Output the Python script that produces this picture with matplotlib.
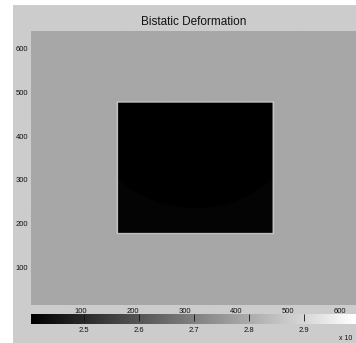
import numpy as np
import matplotlib
matplotlib.use("Agg")
import matplotlib.pyplot as plt
from matplotlib.patches import Rectangle

plt.rcParams['font.family'] = ['Liberation Sans', 'DejaVu Sans']

# field levels (x 10^n)
background_level = 2.79
square_level = 2.414
arc_level = 2.405
rim_level = 2.86
value_range = [2.404, 2.995]

# square footprint in image coords
square_x = [172, 469]
square_y = [178, 475]
rim_width = 3
arc_center = [320, 434]
arc_radius = 199

grid_size = 640
tick_values = [100, 200, 300, 400, 500, 600]
cbar_ticks = [2.5, 2.6, 2.7, 2.8, 2.9]

xx, yy = np.meshgrid(np.arange(grid_size), np.arange(grid_size))
field = np.full((grid_size, grid_size), background_level)
rim = ((xx >= square_x[0] - rim_width) & (xx <= square_x[1] + rim_width) &
       (yy >= square_y[0] - rim_width) & (yy <= square_y[1] + rim_width))
field[rim] = rim_level
inside = ((xx >= square_x[0]) & (xx <= square_x[1]) &
          (yy >= square_y[0]) & (yy <= square_y[1]))
field[inside] = square_level
in_arc = (xx - arc_center[0]) ** 2 + (yy - arc_center[1]) ** 2 < arc_radius ** 2
field[inside & in_arc] = arc_level

W, H = 356, 343
fig = plt.figure(figsize=(W / 100, H / 100), dpi=100, facecolor='white')
fig.patches.append(Rectangle((13 / W, 0), 1, 1 - 5 / H, transform=fig.transFigure,
                             facecolor='#cccccc', edgecolor='none', zorder=-10))

ax = fig.add_axes([31 / W, (H - 305) / H, (W - 31) / W, (305 - 31) / H])
im = ax.imshow(field, cmap='gray', vmin=value_range[0], vmax=value_range[1],
               origin='lower', extent=[0, grid_size, 0, grid_size],
               aspect='auto', interpolation='antialiased')
ax.set_xlim(4, 631)
ax.set_ylim(13, 641)
ax.set_xticks(tick_values)
ax.set_yticks(tick_values)
ax.tick_params(length=0, labelsize=5.5, pad=2, colors='#111111')
for s in ax.spines.values():
    s.set_visible(False)
ax.set_title('Bistatic Deformation', fontsize=8.5, pad=4, color='#111111')

cax = fig.add_axes([31 / W, (H - 324) / H, (W - 31) / W, 10 / H])
cb = fig.colorbar(im, cax=cax, orientation='horizontal')
cb.set_ticks(cbar_ticks)
cb.outline.set_visible(False)
cax.tick_params(direction='in', length=5, width=0.6, colors='#111111',
                top=True, bottom=False, labelbottom=True, labelsize=5.5, pad=2)
for t in cax.get_xticklines():
    t.set_color('#333333')
fig.text(339 / W, 1 - 338 / H, 'x 10', fontsize=5, va='center', ha='left', color='#111111')

fig.savefig('out.png', dpi=100, facecolor=fig.get_facecolor())
